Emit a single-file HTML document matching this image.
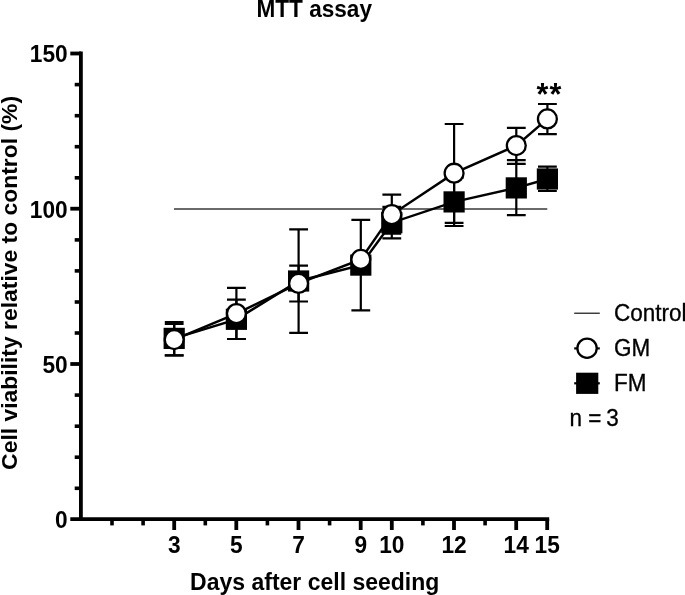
<!DOCTYPE html>
<html><head><meta charset="utf-8"><title>MTT assay</title>
<style>
html,body{margin:0;padding:0;background:#fff;}
body{width:685px;height:595px;overflow:hidden;}
svg{display:block;}
text{font-family:"Liberation Sans",sans-serif;fill:#000;}
</style></head><body>
<svg width="685" height="595" viewBox="0 0 685 595">
<rect width="685" height="595" fill="#fff"/>
<text transform="translate(314.2 16.9) scale(1 1.02)" text-anchor="middle" style="font-weight:bold;font-size:22.6px">MTT assay</text>
<g stroke="#000" stroke-width="3.8" fill="none" stroke-linecap="butt">
<path d="M80.9 51.5V521.1"/>
<path d="M70.3 519.2H549.2"/>
<path d="M74.7 488.3H81" stroke-width="3.6"/>
<path d="M74.7 457.2H81" stroke-width="3.6"/>
<path d="M74.7 426.2H81" stroke-width="3.6"/>
<path d="M74.7 395.1H81" stroke-width="3.6"/>
<path d="M70.3 364.0H81"/>
<path d="M74.7 333.0H81" stroke-width="3.6"/>
<path d="M74.7 302.0H81" stroke-width="3.6"/>
<path d="M74.7 270.9H81" stroke-width="3.6"/>
<path d="M74.7 239.9H81" stroke-width="3.6"/>
<path d="M70.3 208.7H81"/>
<path d="M74.7 177.8H81" stroke-width="3.6"/>
<path d="M74.7 146.7H81" stroke-width="3.6"/>
<path d="M74.7 115.7H81" stroke-width="3.6"/>
<path d="M74.7 84.6H81" stroke-width="3.6"/>
<path d="M70.3 53.5H81"/>
<path d="M112.0 519V525.4" stroke-width="3.6"/>
<path d="M143.1 519V525.4" stroke-width="3.6"/>
<path d="M174.2 519V530"/>
<path d="M205.3 519V525.4" stroke-width="3.6"/>
<path d="M236.3 519V530"/>
<path d="M267.4 519V525.4" stroke-width="3.6"/>
<path d="M298.5 519V530"/>
<path d="M329.6 519V525.4" stroke-width="3.6"/>
<path d="M360.7 519V530"/>
<path d="M391.8 519V530"/>
<path d="M422.9 519V525.4" stroke-width="3.6"/>
<path d="M454.0 519V530"/>
<path d="M485.1 519V525.4" stroke-width="3.6"/>
<path d="M516.2 519V530"/>
<path d="M547.2 519V530"/>
</g>
<text transform="translate(67.7 528.0) scale(1 1.04)" text-anchor="end" style="font-weight:bold;font-size:22.7px">0</text>
<text transform="translate(67.7 372.8) scale(1 1.04)" text-anchor="end" style="font-weight:bold;font-size:22.7px">50</text>
<text transform="translate(67.7 217.5) scale(1 1.04)" text-anchor="end" style="font-weight:bold;font-size:22.7px">100</text>
<text transform="translate(67.7 62.3) scale(1 1.04)" text-anchor="end" style="font-weight:bold;font-size:22.7px">150</text>
<text transform="translate(174.2 552.6) scale(1 1.03)" text-anchor="middle" style="font-weight:bold;font-size:22.7px">3</text>
<text transform="translate(236.3 552.6) scale(1 1.03)" text-anchor="middle" style="font-weight:bold;font-size:22.7px">5</text>
<text transform="translate(298.5 552.6) scale(1 1.03)" text-anchor="middle" style="font-weight:bold;font-size:22.7px">7</text>
<text transform="translate(360.7 552.6) scale(1 1.03)" text-anchor="middle" style="font-weight:bold;font-size:22.7px">9</text>
<text transform="translate(391.8 552.6) scale(1 1.03)" text-anchor="middle" style="font-weight:bold;font-size:22.7px">10</text>
<text transform="translate(454.0 552.6) scale(1 1.03)" text-anchor="middle" style="font-weight:bold;font-size:22.7px">12</text>
<text transform="translate(516.2 552.6) scale(1 1.03)" text-anchor="middle" style="font-weight:bold;font-size:22.7px">14</text>
<text transform="translate(547.2 552.6) scale(1 1.03)" text-anchor="middle" style="font-weight:bold;font-size:22.7px">15</text>
<text transform="translate(314.7 590.0) scale(1 1.005)" text-anchor="middle" style="font-weight:bold;font-size:23.0px">Days after cell seeding</text>
<text transform="translate(17.0 282.9) rotate(-90) scale(1 1.0)" text-anchor="middle" style="font-weight:bold;font-size:22.9px">Cell viability relative to control (%)</text>
<path d="M174 209H547.3" stroke="#383838" stroke-width="1.5" fill="none"/>
<g stroke="#000" stroke-width="2.2" fill="none">
<path d="M174.2 324.0V355.3M164.8 324.0H183.6M164.8 355.3H183.6"/>
<path d="M236.4 299.7V339.0M227.0 299.7H245.8M227.0 339.0H245.8"/>
<path d="M298.6 229.4V332.8M289.2 229.4H308.0M289.2 332.8H308.0"/>
<path d="M360.8 219.9V310.3M351.4 219.9H370.2M351.4 310.3H370.2"/>
<path d="M391.8 206.8V238.3M382.4 206.8H401.2M382.4 238.3H401.2"/>
<path d="M454.1 177.8V226.0M444.7 177.8H463.5M444.7 226.0H463.5"/>
<path d="M516.3 160.1V215.2M506.9 160.1H525.7M506.9 215.2H525.7"/>
<path d="M547.4 166.7V191.0M538.0 166.7H556.8M538.0 191.0H556.8"/>
<path d="M174.2 322.0V355.3M164.8 322.0H183.6M164.8 355.3H183.6"/>
<path d="M236.4 287.8V339.0M227.0 287.8H245.8M227.0 339.0H245.8"/>
<path d="M298.6 265.7V301.5M289.2 265.7H308.0M289.2 301.5H308.0"/>
<path d="M391.8 194.6V233.7M382.4 194.6H401.2M382.4 233.7H401.2"/>
<path d="M454.1 124.0V222.9M444.7 124.0H463.5M444.7 222.9H463.5"/>
<path d="M516.3 127.8V163.8M506.9 127.8H525.7M506.9 163.8H525.7"/>
<path d="M547.4 104.0V134.1M538.0 104.0H556.8M538.0 134.1H556.8"/>
</g>
<polyline points="174.2,338.4 236.4,319.3 298.6,281.0 360.8,265.1 391.8,222.7 454.1,201.9 516.3,187.9 547.4,179.0" stroke="#000" stroke-width="2.45" fill="none"/>
<rect x="163.6" y="327.8" width="21.2" height="21.2" fill="#000"/>
<rect x="225.8" y="308.7" width="21.2" height="21.2" fill="#000"/>
<rect x="288.0" y="270.4" width="21.2" height="21.2" fill="#000"/>
<rect x="350.2" y="254.5" width="21.2" height="21.2" fill="#000"/>
<rect x="381.2" y="212.1" width="21.2" height="21.2" fill="#000"/>
<rect x="443.5" y="191.3" width="21.2" height="21.2" fill="#000"/>
<rect x="505.7" y="177.3" width="21.2" height="21.2" fill="#000"/>
<rect x="536.8" y="168.4" width="21.2" height="21.2" fill="#000"/>
<polyline points="174.2,339.6 236.4,313.6 298.6,283.4 360.8,259.4 391.8,214.6 454.1,173.2 516.3,145.6 547.4,118.9" stroke="#000" stroke-width="2.45" fill="none"/>
<circle cx="174.2" cy="339.6" r="9.45" fill="#fff" stroke="#000" stroke-width="2.3"/>
<circle cx="236.4" cy="313.6" r="9.45" fill="#fff" stroke="#000" stroke-width="2.3"/>
<circle cx="298.6" cy="283.4" r="9.45" fill="#fff" stroke="#000" stroke-width="2.3"/>
<circle cx="360.8" cy="259.4" r="9.45" fill="#fff" stroke="#000" stroke-width="2.3"/>
<circle cx="391.8" cy="214.6" r="9.45" fill="#fff" stroke="#000" stroke-width="2.3"/>
<circle cx="454.1" cy="173.2" r="9.45" fill="#fff" stroke="#000" stroke-width="2.3"/>
<circle cx="516.3" cy="145.6" r="9.45" fill="#fff" stroke="#000" stroke-width="2.3"/>
<circle cx="547.4" cy="118.9" r="9.45" fill="#fff" stroke="#000" stroke-width="2.3"/>
<text x="536.4" y="105" style="font-weight:bold;font-size:30.5px;letter-spacing:1.24px">**</text>
<path d="M574.2 313.25H599.8" stroke="#333" stroke-width="1.4" fill="none"/>
<text transform="translate(613.9 321.1) scale(1 1.03)" text-anchor="start" style="stroke:#000;stroke-width:0.3px;font-size:22.5px">Control</text>
<path d="M574.2 348.4H599.8" stroke="#000" stroke-width="2.2" fill="none"/>
<circle cx="587.05" cy="348.2" r="9.65" fill="#fff" stroke="#000" stroke-width="2.3"/>
<text transform="translate(613.9 356.2) scale(1 1.045)" text-anchor="start" style="stroke:#000;stroke-width:0.3px;font-size:22.5px">GM</text>
<path d="M574.2 383.3H599.8" stroke="#000" stroke-width="2.2" fill="none"/>
<rect x="576.1" y="372.7" width="22.2" height="21.2" fill="#000"/>
<text transform="translate(613.9 391.2) scale(1 1.045)" text-anchor="start" style="stroke:#000;stroke-width:0.3px;font-size:22.5px">FM</text>
<text transform="translate(569.6 426.1) scale(1 1.045)" text-anchor="start" style="stroke:#000;stroke-width:0.3px;font-size:22.5px">n = <tspan dx="-1.4">3</tspan></text>
</svg>
</body></html>
